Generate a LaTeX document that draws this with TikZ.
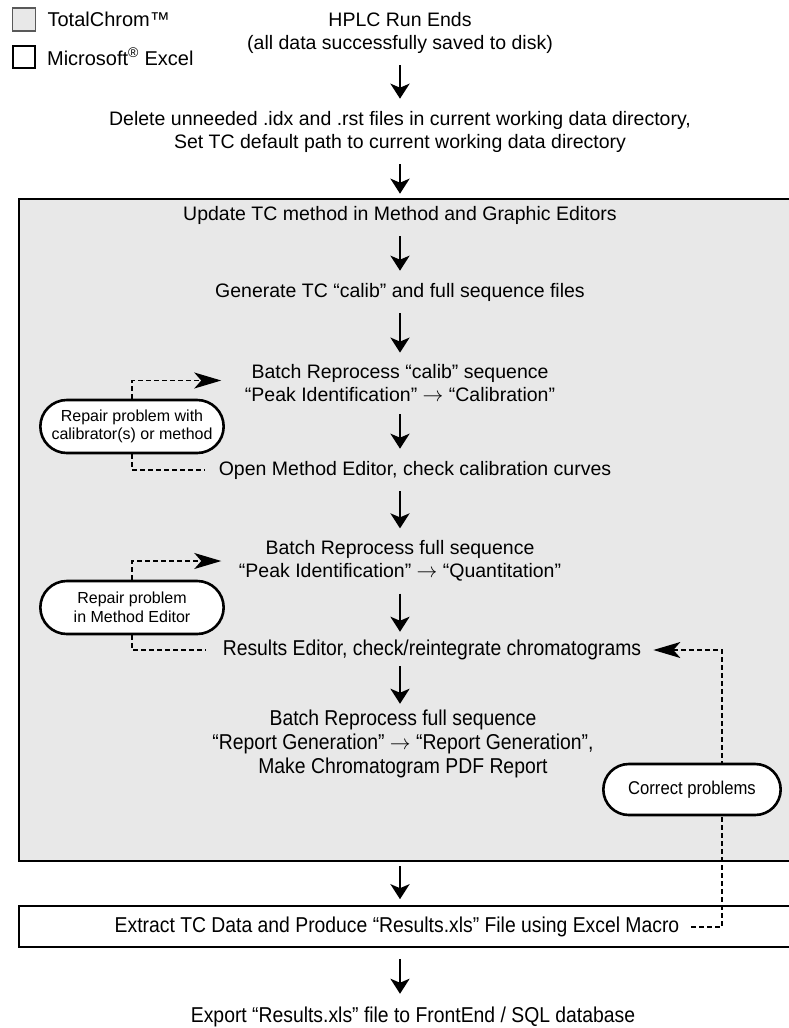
\documentclass[tikz,border=0pt]{standalone}
\usepackage{fontspec}
\setmainfont{Liberation Sans}
\newfontfamily\narrowfont[FakeStretch=0.9]{Liberation Sans}
\usetikzlibrary{arrows.meta,shapes.misc,positioning}
\definecolor{tcgray}{HTML}{E8E8E8}
\tikzset{
    stage/.style =  {align=center,
                    inner sep=3pt,
                    font=\fontsize{19.5}{23}\selectfont},
    late/.style =   {align=center,
                    inner sep=3pt,
                    font=\narrowfont\fontsize{21.5}{24}\selectfont},
    fix/.style =    {rounded rectangle,
                    fill=white,
                    draw=black,
                    line width=2.6pt,
                    align=center,
                    minimum width=190pt,
                    minimum height=53pt,
                    font=\fontsize{16}{18.5}\selectfont},
    tcbox/.style =  {rectangle,
                    fill=tcgray,
                    draw=black,
                    line width=2pt,
                    inner sep=0pt},
    xlbox/.style =  {rectangle,
                    fill=white,
                    draw=black,
                    line width=1.6pt,
                    inner sep=0pt},
    key/.style =    {rectangle,
                    draw=black,
                    line width=1.8pt,
                    minimum size=23pt,
                    inner sep=0pt},
    keytext/.style = {inner sep=0pt,
                    font=\fontsize{20}{22}\selectfont},
    -,
    flow/.style =   {line width=2.8pt,
                    -{Stealth[length=15pt,width=19pt,inset=4pt]},
                    shorten <=9pt,
                    shorten >=9pt},
    fixline/.style = {line width=1.4pt,
                    dash pattern=on 5pt off 3pt},
    fixarrow/.style = {fixline,
                    -{Stealth[length=27pt,width=16pt,inset=7pt]}}}

\begin{document}
\begin{tikzpicture}[x=1pt,y=-1pt]
                \useasboundingbox (0,0) rectangle (788,1028);
                % legend
                \node[key,fill=tcgray,draw=gray!70!black] (tck) at (24,19.5) {};
                \node[key,minimum size=22pt] (xlk) [below=13pt of tck] {};
                \node[keytext] (tct) [right=11pt of tck] {TotalChrom™};
                \node[keytext] (xlt) [right=11pt of xlk] {Microsoft\textsuperscript{®} Excel};
                % TotalChrom part
                \node[tcbox,minimum width=781pt,minimum height=662pt] (tc) at (409.5,530) {};
                \node[xlbox,minimum width=781pt,minimum height=41pt] (xl) at (409.5,926.5) {};

                \node[stage]    (hplc)  at (400,32.5)   {HPLC Run Ends\\(all data successfully saved to disk)};
                \node[stage]    (del)   at (400,131.5)  {Delete unneeded .idx and .rst files in current working data directory,\\Set TC default path to current working data directory};
                \node[stage]    (upd)   at (400,215)    {Update TC method in Method and Graphic Editors};
                \node[stage]    (gen)   at (400,292)    {Generate TC “calib” and full sequence files};
                \node[stage]    (bcal)  at (400,383.5)  {Batch Reprocess “calib” sequence\\“Peak Identification” $\rightarrow$ “Calibration”};
                \node[stage]    (open)  at (415,470)    {Open Method Editor, check calibration curves};
                \node[stage]    (bfull) at (400,561)    {Batch Reprocess full sequence\\“Peak Identification” $\rightarrow$ “Quantitation”};
                \node[late]     (res)   at (432,650)    {Results Editor, check/reintegrate chromatograms};
                \node[late]     (brep)  at (403,744)    {Batch Reprocess full sequence\\“Report Generation” $\rightarrow$ “Report Generation”,\\Make Chromatogram PDF Report};
                \node[late]     (extr)  at (397,927)    {Extract TC Data and Produce “Results.xls” File using Excel Macro};
                \node[late]     (exp)   at (413,1017)   {Export “Results.xls” file to FrontEnd / SQL database};

                \node[fix]      (p1)    at (132,426.5)  {Repair problem with\\calibrator(s) or method};
                \node[fix]      (p2)    at (132,607.5)  {Repair problem\\in Method Editor};

                \path           (hplc) edge [flow] (del)
                                (del) edge [flow] (upd)
                                (upd) edge [flow] (gen)
                                (gen) edge [flow] (bcal)
                                (bcal) edge [flow] (bcal.south |- open.north)
                                (bcal.south |- open.south) edge [flow] (bfull)
                                (bfull) edge [flow,shorten >=5pt] (bfull.south |- res.north)
                                (bfull.south |- res.south) edge [flow,shorten <=3pt,shorten >=3pt] (bfull.south |- brep.north)
                                (bfull.south |- tc.south) edge [flow,shorten <=4pt,shorten >=6pt] (bfull.south |- xl.north)
                                (bfull.south |- xl.south) edge [flow,shorten <=11pt,shorten >=10pt] (bfull.south |- exp.north);

                % repair loops
                \draw[fixarrow,shorten >=20.5pt] (p1.north) |- ([yshift=3pt]bcal.west);
                \draw[fixline,shorten >=10.5pt] (p1.south) |- (open.west);
                \draw[fixarrow,shorten >=14.5pt] (p2.north) |- (bfull.west);
                \draw[fixline,shorten >=13.5pt] (p2.south) |- (res.west);

                % correction loop from Excel back to TC
                \coordinate (turn) at (722,650);
                \draw[fixarrow,shorten <=9pt,shorten >=9pt] (extr.east) -| (turn) -- (res.east);
                \node[fix,minimum width=184pt,minimum height=51pt,font=\narrowfont\fontsize{18.5}{20}\selectfont] (p3) at (692,789.5) {Correct problems};
        \end{tikzpicture}
\end{document}
